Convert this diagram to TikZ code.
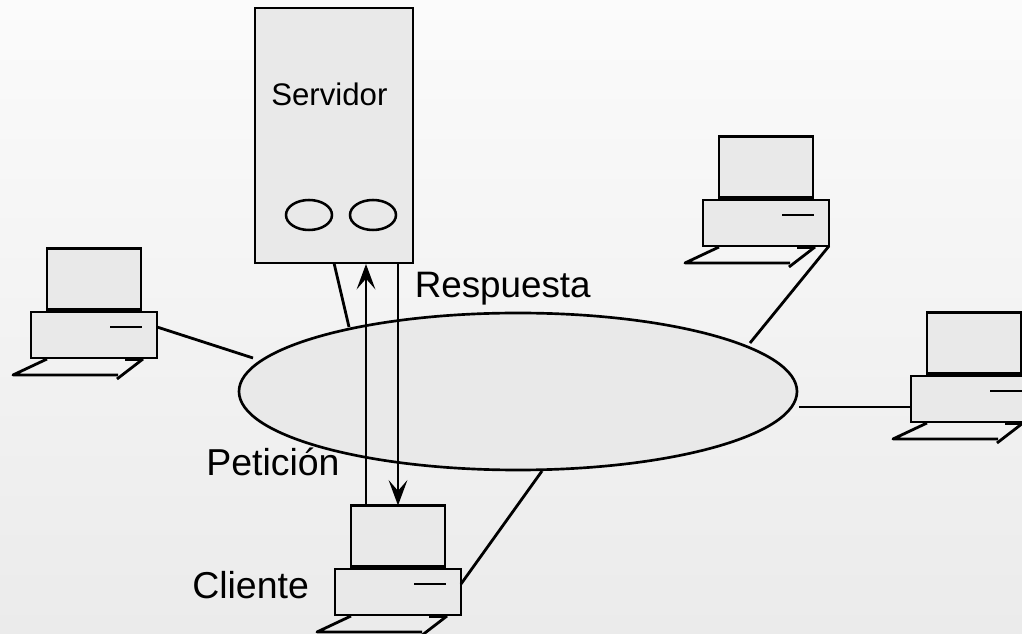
\documentclass[tikz,border=0pt]{standalone}
\usepackage{fontspec}
\setmainfont{Liberation Sans}
\usetikzlibrary{shapes.geometric,arrows.meta}
\definecolor{shapefill}{HTML}{E9E9E9}
\definecolor{bgtop}{HTML}{FBFBFB}
\definecolor{bgbottom}{HTML}{EBEBEB}
\tikzset{
  wire/.style={line width=2.1pt,black},
  partbox/.style={draw=black,line width=2.1pt,fill=shapefill,rectangle,inner sep=0pt,outer sep=0pt},
  disk/.style={draw=black,line width=1.9pt,fill=shapefill,ellipse,inner sep=0pt,outer sep=0pt,minimum width=34.5pt,minimum height=22.5pt},
  cloud/.style={draw=black,line width=2pt,fill=shapefill,ellipse,inner sep=0pt,outer sep=0pt,minimum width=418.5pt,minimum height=117.75pt},
  big/.style={inner sep=0pt,anchor=base west,font=\fontsize{27.6pt}{30pt}\selectfont},
  bigger/.style={inner sep=0pt,anchor=base west,font=\fontsize{28.1pt}{30pt}\selectfont},
  small/.style={inner sep=0pt,anchor=base west,font=\fontsize{23.4pt}{26pt}\selectfont},
  flow/.style={wire,-{Stealth[length=19pt,width=14pt,inset=8pt]}},
  computer/.pic={
    \node[partbox,minimum width=70.5pt,minimum height=45.75pt] (-monitor) at (63,-33) {};
    \node[partbox,minimum width=94.5pt,minimum height=34.5pt] (-base) at (63,23) {};
    \coordinate (-slashA) at (79,15);
    \coordinate (-slashB) at (111,15);
    \coordinate (-pe) at (126,15);
    \coordinate (-pw) at (0,31);
    \coordinate (-kbA) at (16,47);
    \coordinate (-kbB) at (-18,63);
    \coordinate (-kbC) at (87,63);
    \coordinate (-kbD) at (112,47);
    \coordinate (-kbE) at (86,67);
    \coordinate (-kbF) at (94,47);
    \draw[wire] (-slashA) -- (-slashB);
    \draw[wire,line join=round] (-kbA) -- (-kbB) -- (-kbC);
    \draw[wire] (-kbD) -- (-kbE);
    \draw[line width=3pt] (-kbF) -- (-kbD);
  }
}
\begin{document}
\begin{tikzpicture}[x=0.75pt,y=-0.75pt]
\clip (0,0) rectangle (1022,634);
\shade[top color=bgtop,bottom color=bgbottom] (0,0) rectangle (1022,634);

\coordinate (netL) at (253,358);
\coordinate (netS) at (349,327);
\coordinate (netT) at (750,343);
\coordinate (netR) at (799,407);
\coordinate (netC) at (542,471);
\node[partbox,minimum width=118.5pt,minimum height=191.25pt] (server) at (334,135.5) {};
\node[disk] (diskA) at (309,215) {};
\node[disk] (diskB) at (373,215) {};
\coordinate (srvLink) at (334,263);
\coordinate (srvUp) at (366,264);
\coordinate (srvDown) at (398,264);

\node[cloud] (net) at (518,391.5) {};

\pic (pcL) at (31,312) {computer};
\pic (pcT) at (703,200) {computer};
\pic (pcR) at (911,376) {computer};
\pic (pcC) at (335,569) {computer};

\draw[wire] (pcL-pe) -- (netL);
\draw[wire] (srvLink) -- (netS);
\draw[wire] (pcT-base.south east) -- (netT);
\draw[wire] (netR) -- (pcR-pw);
\draw[wire] (pcC-pe) -- (netC);

\coordinate (cliUp) at (366,504);
\draw[flow] (cliUp) -- (srvUp);
\draw[flow] (srvDown) -- (pcC-monitor.north);

\node[small] (lblServidor) at (271,106) {Servidor};
\node[big] (lblRespuesta) at (414.5,297.5) {Respuesta};
\node[bigger] (lblPeticion) at (206,476) {Petición};
\node[bigger] (lblCliente) at (192,599) {Cliente};
\end{tikzpicture}
\end{document}
